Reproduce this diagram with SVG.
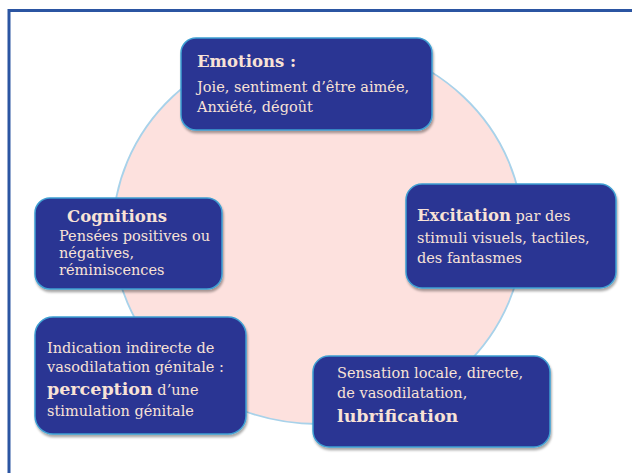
<svg xmlns="http://www.w3.org/2000/svg" width="632" height="473" viewBox="0 0 632 473">
<style>
.box{fill:#2b3593;stroke:#3f9fd2;stroke-width:1.5;filter:url(#sh)}
.t{font-family:"DejaVu Serif","Liberation Serif",serif;fill:#f8e2d6;font-size:14.5px}
.b{font-weight:bold;font-size:16.5px}
.big{font-weight:bold;font-size:17.5px}
</style>
<defs>
<filter id="sh" x="-10%" y="-10%" width="125%" height="130%">
<feDropShadow dx="1" dy="2.5" stdDeviation="1.2" flood-color="#000" flood-opacity="0.35"/>
</filter>
</defs>
<rect width="632" height="473" fill="#fff"/>
<rect x="9" y="10.5" width="640" height="480" fill="none" stroke="#2b55a2" stroke-width="3"/>
<g id="cycle">
<ellipse cx="318" cy="232" rx="205" ry="192" fill="#fde1de" stroke="#a8d2ea" stroke-width="1.8"/>
</g>
<g id="connectors"></g>
<g id="emotions">
<rect class="box" x="181" y="38" width="251" height="92" rx="15"/>
<text class="t b" x="197" y="67">Emotions :</text>
<text class="t" x="197" y="92">Joie, sentiment d’être aimée,</text>
<text class="t" x="197" y="112">Anxiété, dégoût</text>
</g>
<g id="cognitions">
<rect class="box" x="35" y="198" width="187" height="91" rx="15"/>
<text class="t b" x="67" y="222">Cognitions</text>
<text class="t" x="59" y="241">Pensées positives ou</text>
<text class="t" x="59" y="258">négatives,</text>
<text class="t" x="59" y="275">réminiscences</text>
</g>
<g id="excitation">
<rect class="box" x="406" y="184" width="210" height="104" rx="16"/>
<text class="t" x="417" y="221"><tspan class="b">Excitation</tspan> par des</text>
<text class="t" x="417" y="243">stimuli visuels, tactiles,</text>
<text class="t" x="417" y="263">des fantasmes</text>
</g>
<g id="indication">
<rect class="box" x="35" y="317" width="211" height="117" rx="18"/>
<text class="t" x="47" y="353">Indication indirecte de</text>
<text class="t" x="47" y="372">vasodilatation génitale :</text>
<text class="t" x="47" y="395"><tspan class="big" font-size="18px">perception</tspan> d’une</text>
<text class="t" x="47" y="416">stimulation génitale</text>
</g>
<g id="sensation">
<rect class="box" x="313" y="356" width="237" height="91" rx="16"/>
<text class="t" x="337" y="378">Sensation locale, directe,</text>
<text class="t" x="337" y="398">de vasodilatation,</text>
<text class="t big" x="337" y="422" font-size="17px">lubrification</text>
</g>
</svg>
